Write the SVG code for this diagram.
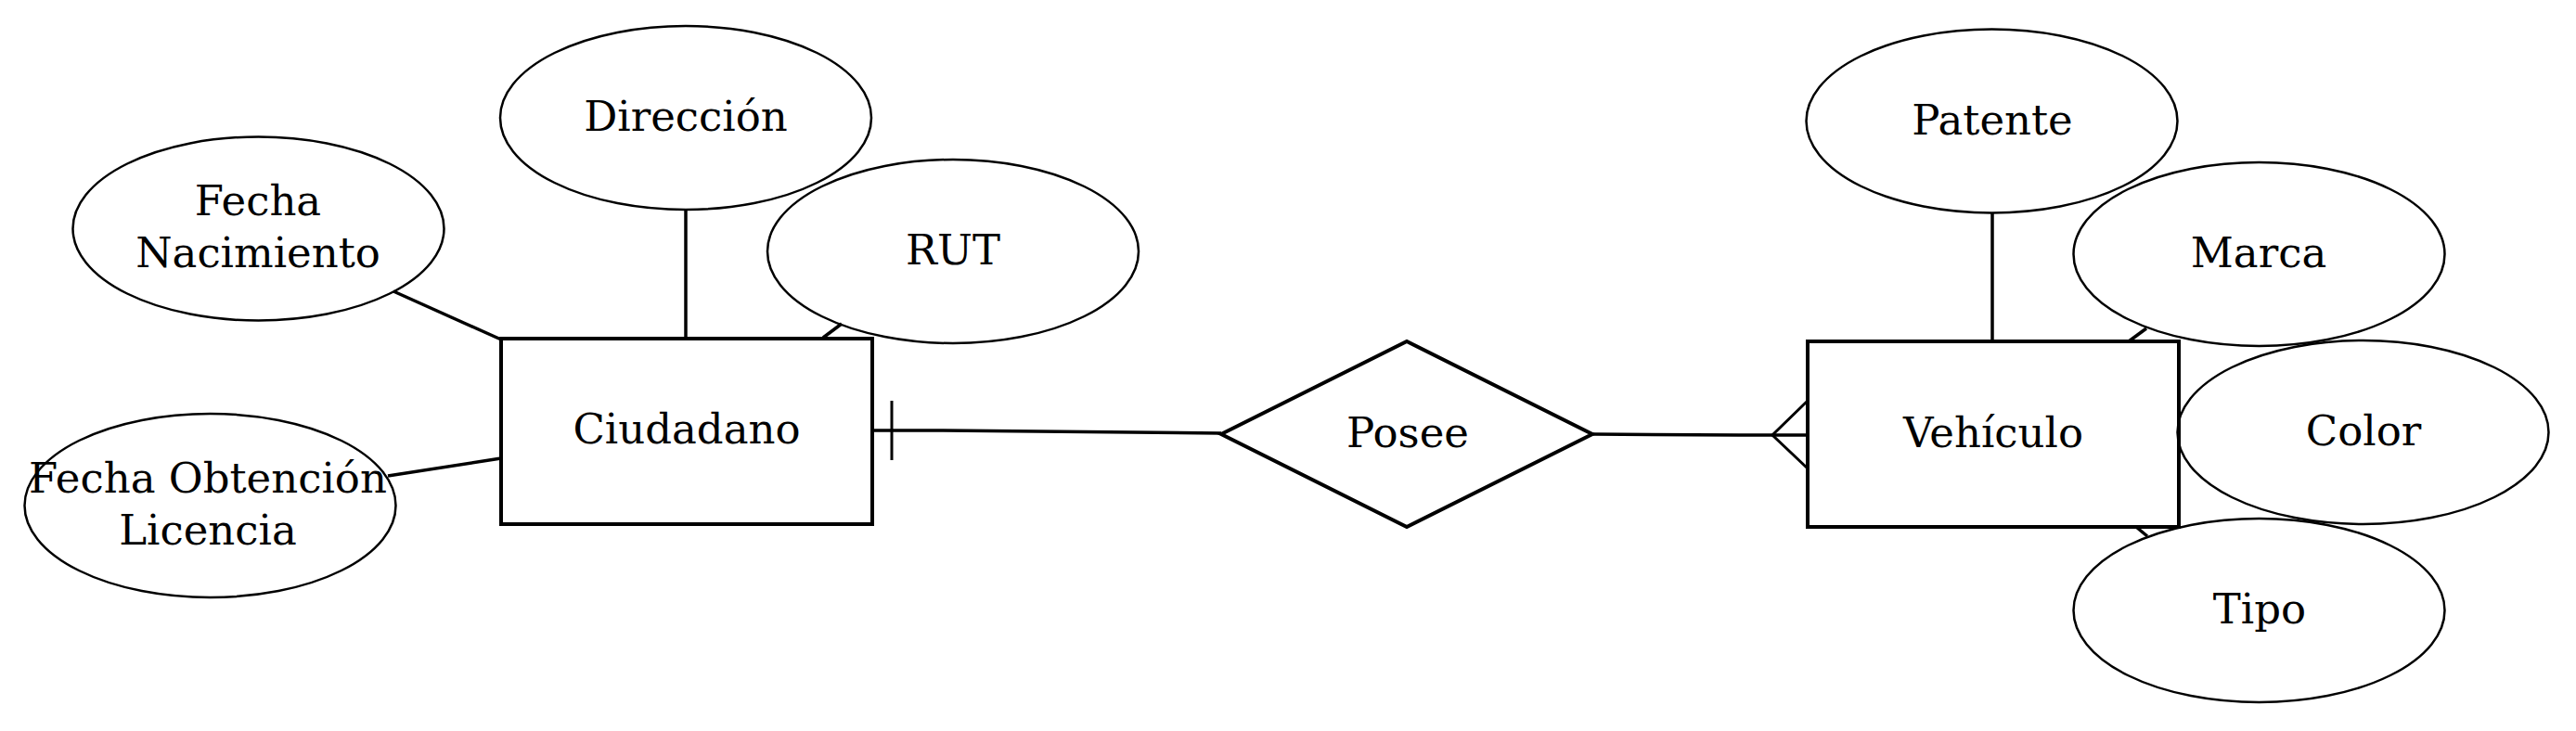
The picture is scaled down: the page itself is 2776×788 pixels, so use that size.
<svg xmlns="http://www.w3.org/2000/svg" width="2776" height="788" viewBox="0 0 2776 788">
<style>
.bg{fill:#ffffff}
.ent{fill:none;stroke:#000;stroke-width:4}
.rel{fill:none;stroke:#000;stroke-width:4;stroke-linejoin:miter}
.att{fill:none;stroke:#000;stroke-width:2.5}
.ln{fill:none;stroke:#000;stroke-width:3.5}
.cf{fill:none;stroke:#000;stroke-width:3}
text{font-family:"DejaVu Serif","Liberation Serif",serif;font-size:45px;fill:#000;text-anchor:middle}
</style>
<rect class="bg" x="0" y="0" width="2776" height="788"/>
<g id="connectors">
  <line class="ln" x1="424" y1="314" x2="540" y2="366"/>
  <line class="ln" x1="739" y1="226" x2="739" y2="364"/>
  <line class="ln" x1="907" y1="349" x2="887" y2="364"/>
  <line class="ln" x1="418" y1="513" x2="540" y2="494"/>
  <line class="ln" x1="2147" y1="230" x2="2147" y2="368"/>
  <line class="ln" x1="2313" y1="354" x2="2294" y2="368"/>
  <line class="ln" x1="2302" y1="568" x2="2314" y2="578"/>
  <path class="ln" d="M940,464 L1010,464 L1316,467"/>
  <line class="cf" x1="961" y1="432" x2="961" y2="496"/>
  <path class="ln" d="M1717,468 L1874,469 L1948,469"/>
  <path class="cf" d="M1948,432 L1910,469 L1948,505"/>
</g>
<g id="ciudadano">
  <rect class="ent" x="540" y="365" width="400" height="200"/>
  <text x="740" y="478">Ciudadano</text>
</g>
<g id="fecha-nacimiento">
  <ellipse class="att" cx="278.5" cy="246.5" rx="200" ry="99"/>
  <text x="278" y="232">Fecha</text>
  <text x="278" y="288">Nacimiento</text>
</g>
<g id="direccion">
  <ellipse class="att" cx="739" cy="127" rx="200" ry="99"/>
  <text x="739" y="141">Dirección</text>
</g>
<g id="rut">
  <ellipse class="att" cx="1027" cy="271" rx="200" ry="99"/>
  <text x="1027" y="285">RUT</text>
</g>
<g id="fecha-obtencion">
  <ellipse class="att" cx="226.5" cy="545" rx="200" ry="99"/>
  <text x="224" y="531">Fecha Obtención</text>
  <text x="224" y="587">Licencia</text>
</g>
<g id="posee">
  <polygon class="rel" points="1316,468 1516,368 1716,468 1516,568"/>
  <text x="1517" y="482">Posee</text>
</g>
<g id="vehiculo">
  <rect class="ent" x="1948" y="368" width="400" height="200"/>
  <text x="2148" y="482">Vehículo</text>
</g>
<g id="patente">
  <ellipse class="att" cx="2146.5" cy="130.5" rx="200" ry="99"/>
  <text x="2147" y="145">Patente</text>
</g>
<g id="marca">
  <ellipse class="att" cx="2434.5" cy="274" rx="200" ry="99"/>
  <text x="2434" y="288">Marca</text>
</g>
<g id="color">
  <ellipse class="att" cx="2546.5" cy="466" rx="200" ry="99"/>
  <text x="2547" y="480">Color</text>
</g>
<g id="tipo">
  <ellipse class="att" cx="2434.5" cy="658" rx="200" ry="99"/>
  <text x="2435" y="672">Tipo</text>
</g>
</svg>
